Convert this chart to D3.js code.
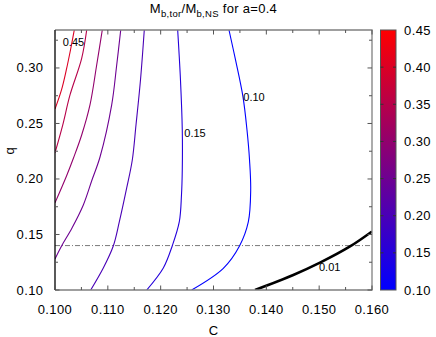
<!DOCTYPE html>
<html>
<head>
<meta charset="utf-8">
<script src="https://cdn.jsdelivr.net/npm/d3@7"></script>
<style>
  body{ margin:0; background:#fff; }
  text{ font-family:"Liberation Sans", Arial, Helvetica, sans-serif; fill:#000; }
</style>
</head>
<body>
<svg id="chart" width="436" height="337"></svg>
<script>
// contour levels of Mb,tor/Mb,NS (C, q)
const C_040 = [0.10365, 0.10293, 0.10214, 0.10123, 0.10000];
const q_040 = [0.3342, 0.3162, 0.2982, 0.2802, 0.2630];
const C_035 = [0.10600, 0.10505, 0.10284, 0.10146, 0.10000];
const q_035 = [0.3342, 0.3087, 0.2757, 0.2486, 0.2236];
const C_030 = [0.10895, 0.10789, 0.10662, 0.10505, 0.10350, 0.10218, 0.10000];
const q_030 = [0.3342, 0.3027, 0.2667, 0.2396, 0.2189, 0.2027, 0.1785];
const C_025 = [0.11244, 0.11168, 0.11073, 0.10852, 0.10700, 0.10536, 0.10322, 0.10127, 0.10000];
const q_025 = [0.3342, 0.3027, 0.2667, 0.2198, 0.1991, 0.1766, 0.1559, 0.1399, 0.1280];
const C_020 = [0.11690, 0.11618, 0.11533, 0.11463, 0.11357, 0.11217, 0.11103, 0.10914, 0.10676];
const q_020 = [0.3342, 0.2892, 0.2486, 0.2171, 0.1919, 0.1613, 0.1396, 0.1198, 0.1000];
const C_015 = [0.12322, 0.12375, 0.12409, 0.12409, 0.12394, 0.12353, 0.12220, 0.12050, 0.11736];
const q_015 = [0.3342, 0.2892, 0.2441, 0.2081, 0.1856, 0.1615, 0.1399, 0.1198, 0.1000];
const C_010 = [0.13293, 0.13417, 0.13558, 0.13634, 0.13682, 0.13704, 0.13659, 0.13492, 0.13186, 0.12587];
const q_010 = [0.3342, 0.3072, 0.2739, 0.2441, 0.2171, 0.1901, 0.1613, 0.1396, 0.1195, 0.1000];
const C_001 = [0.13786, 0.14510, 0.15016, 0.15584, 0.16000];
const q_001 = [0.1000, 0.1135, 0.1246, 0.1392, 0.1527];

const levels = [0.40, 0.35, 0.30, 0.25, 0.20, 0.15, 0.10];
const levelC = [C_040, C_035, C_030, C_025, C_020, C_015, C_010];
const levelQ = [q_040, q_035, q_030, q_025, q_020, q_015, q_010];

const labelText = ["0.45", "0.15", "0.10", "0.01"];
const labelC = [0.10146, 0.12447, 0.13564, 0.14997];
const labelQ = [0.3236, 0.2417, 0.2736, 0.1207];

const qLine = 0.14;

const xTicks = [0.100, 0.110, 0.120, 0.130, 0.140, 0.150, 0.160];
const xMinor = [0.105, 0.115, 0.125, 0.135, 0.145, 0.155];
const yTicks = [0.10, 0.15, 0.20, 0.25, 0.30];
const yMinor = [0.125, 0.175, 0.225, 0.275, 0.325];
const cbTicks = [0.10, 0.15, 0.20, 0.25, 0.30, 0.35, 0.40, 0.45];

function draw(){
  const svg = d3.select("#chart");
  const L=55, R=372, T=30, B=290;
  const x = d3.scaleLinear().domain([0.100, 0.160]).range([L, R]);
  const y = d3.scaleLinear().domain([0.10, 0.3342]).range([B, T]);
  const col = d3.scaleLinear().domain([0.10, 0.45]).range(["blue","red"]).interpolate(d3.interpolateRgb);

  const defs = svg.append("defs");
  defs.append("clipPath").attr("id","plotClip")
    .append("rect").attr("x",L).attr("y",T).attr("width",R-L).attr("height",B-T);

  const line = d3.line().x(d=>x(d[0])).y(d=>y(d[1])).curve(d3.curveCatmullRom.alpha(0.5));
  const plot = svg.append("g").attr("clip-path","url(#plotClip)");

  // dash-dot line at q = 0.14
  plot.append("line")
    .attr("x1", x(0.100)).attr("x2", x(0.160))
    .attr("y1", y(qLine)).attr("y2", y(qLine))
    .attr("stroke","#7a7a7a").attr("stroke-width",1)
    .attr("stroke-dasharray","5,2,1,2");

  levels.forEach((lv,i)=>{
    const pts = levelC[i].map((c,j)=>[c, levelQ[i][j]]);
    plot.append("path").attr("d", line(pts))
      .attr("fill","none").attr("stroke", col(lv)).attr("stroke-width",1.1);
  });

  plot.append("path").attr("d", line(C_001.map((c,j)=>[c, q_001[j]])))
    .attr("fill","none").attr("stroke","#000").attr("stroke-width",2.6);

  // contour labels
  svg.selectAll("text.clab")
    .data(labelText.map((t,i)=>({t, c:labelC[i], q:labelQ[i]})))
    .enter().append("text")
    .attr("class","clab")
    .attr("x", d=>x(d.c)).attr("y", d=>y(d.q)+4)
    .attr("font-size", 11)
    .text(d=>d.t);

  // frame
  const frame = svg.append("g").attr("fill","none");
  frame.append("path").attr("d",`M${L},${T}H${R}V${B}H${L}`).attr("stroke","#808080").attr("stroke-width",1.3);
  frame.append("line").attr("x1",L).attr("x2",L).attr("y1",T).attr("y2",B).attr("stroke","#000").attr("stroke-width",1.3);

  // ticks, mirrored, inward
  const tk = svg.append("g").attr("stroke","#555").attr("stroke-width",1);
  xTicks.concat(xMinor).forEach(v=>{
    const len = xTicks.includes(v) ? 4.5 : 3;
    tk.append("line").attr("x1",x(v)).attr("x2",x(v)).attr("y1",B).attr("y2",B-len);
    tk.append("line").attr("x1",x(v)).attr("x2",x(v)).attr("y1",T).attr("y2",T+len);
  });
  yTicks.concat(yMinor).forEach(v=>{
    const len = yTicks.includes(v) ? 4.5 : 3;
    tk.append("line").attr("y1",y(v)).attr("y2",y(v)).attr("x1",L).attr("x2",L+len);
    tk.append("line").attr("y1",y(v)).attr("y2",y(v)).attr("x1",R).attr("x2",R-len);
  });

  svg.selectAll("text.xt").data(xTicks).enter().append("text")
    .attr("class","xt").attr("x", d=>x(d)).attr("y", 314)
    .attr("text-anchor","middle").attr("font-size",13).attr("letter-spacing",0.4)
    .text(d=>d3.format(".3f")(d));
  svg.selectAll("text.yt").data(yTicks).enter().append("text")
    .attr("class","yt").attr("x", 43.5).attr("y", d=>y(d)+4.5)
    .attr("text-anchor","end").attr("font-size",13).attr("letter-spacing",0.4)
    .text(d=>d3.format(".2f")(d));

  svg.append("text").attr("x",(L+R)/2).attr("y",335).attr("text-anchor","middle")
    .attr("font-size",13).text("C");
  svg.append("text").attr("transform","translate(14,151) rotate(-90)")
    .attr("text-anchor","middle").attr("font-size",13).text("q");

  // title
  const title = svg.append("text").attr("x",(L+R)/2).attr("y",13)
    .attr("text-anchor","middle").attr("font-size",13).attr("letter-spacing",0.3);
  title.append("tspan").text("M");
  title.append("tspan").attr("dy",4).attr("font-size",9.5).text("b,tor");
  title.append("tspan").attr("dy",-4).text("/M");
  title.append("tspan").attr("dy",4).attr("font-size",9.5).text("b,NS");
  title.append("tspan").attr("dy",-4).text(" for a=0.4");

  // colour box
  const cbL=380.5, cbR=396;
  const cy = d3.scaleLinear().domain([0.10, 0.45]).range([B, T]);
  const grad = defs.append("linearGradient").attr("id","cbGrad")
    .attr("x1",0).attr("y1",1).attr("x2",0).attr("y2",0);
  d3.range(0, 1.0001, 0.1).forEach(t=>{
    grad.append("stop").attr("offset",t).attr("stop-color", col(0.10 + t*0.35));
  });
  svg.append("rect").attr("x",cbL).attr("y",T).attr("width",cbR-cbL).attr("height",B-T)
    .attr("fill","url(#cbGrad)").attr("stroke","#555").attr("stroke-width",1);
  const cbt = svg.append("g").attr("stroke","#333").attr("stroke-width",1);
  cbTicks.slice(1,-1).forEach(v=>{
    cbt.append("line").attr("x1",cbL).attr("x2",cbL+3).attr("y1",cy(v)).attr("y2",cy(v));
    cbt.append("line").attr("x1",cbR).attr("x2",cbR-3).attr("y1",cy(v)).attr("y2",cy(v));
  });
  svg.selectAll("text.cb").data(cbTicks).enter().append("text")
    .attr("class","cb").attr("x",404).attr("y", d=>cy(d)+4.5)
    .attr("font-size",13).attr("letter-spacing",0.4)
    .text(d=>d3.format(".2f")(d));
}
window.addEventListener("DOMContentLoaded", draw);
</script>
</body>
</html>
